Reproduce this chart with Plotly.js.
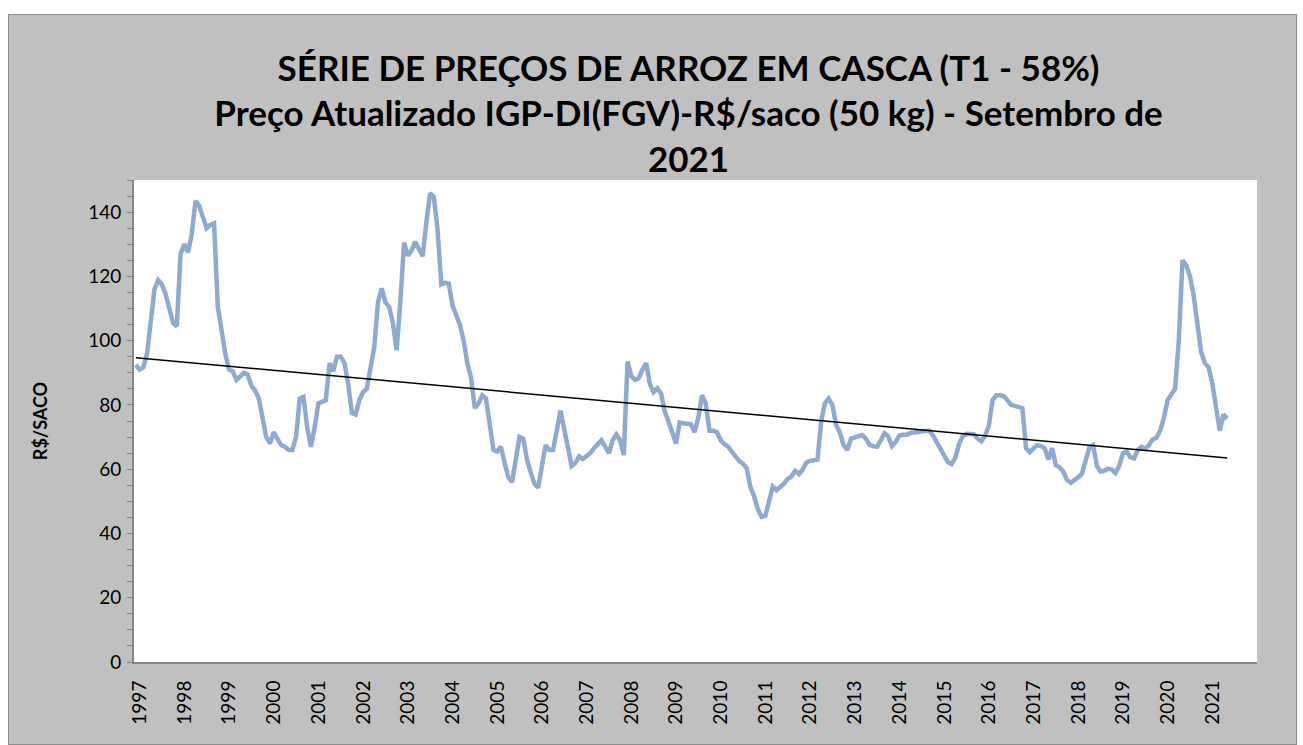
<!DOCTYPE html>
<html>
<head>
<meta charset="utf-8">
<script src="https://cdn.plot.ly/plotly-3.0.1.min.js"></script>
<style>
  html, body { margin: 0; padding: 0; background: #ffffff; }
  #chart {
    position: absolute; left: 8px; top: 14px;
    width: 1289px; height: 731px;
    box-sizing: border-box;
    border: 1px solid #8c8c8c;
  }
</style>
</head>
<body>
<div id="chart"></div>
<script>
// Monthly prices (R$/saco 50 kg), Jan 1997 onward
const p1997 = [92.5, 91, 91.7, 96, 106, 116, 118.8, 117.5, 114.5, 110.5, 105.5, 104.5];
const p1998 = [127, 130, 127.5, 133, 143.5, 142, 138.5, 135, 136, 136.5, 110.6, 102.3];
const p1999 = [96, 91, 90.5, 87.8, 89, 90, 89.5, 86, 84.5, 82, 76, 70];
const p2000 = [68, 71.5, 69.5, 67.5, 67, 66, 66, 70, 82, 82.5, 73, 67];
const p2001 = [73, 80.5, 81, 81.5, 93, 90.5, 95, 95, 93, 86.5, 77.5, 77];
const p2002 = [81.5, 84, 85, 91, 98, 112, 116.3, 112, 110.5, 105.5, 97, 112];
const p2003 = [130.5, 126.5, 128, 130.8, 128.5, 126.3, 137, 145.9, 144.8, 134.5, 117.5, 118];
const p2004 = [117.8, 111, 108, 105, 100, 93, 88.5, 79, 80.5, 83, 82, 73];
const p2005 = [66, 65.5, 67, 62, 57.5, 56, 62.5, 70, 69.5, 63, 59, 55.5];
const p2006 = [54.2, 60, 67.5, 66, 66, 72, 78.2, 72.5, 67, 61, 62, 64];
const p2007 = [63.2, 64, 65, 66.5, 68, 69, 67, 65, 69, 70.8, 69, 64.4];
const p2008 = [93.5, 89, 87.8, 88.3, 91, 93, 86.5, 84, 85.2, 83.6, 78, 75];
const p2009 = [71.5, 68, 74.5, 74.3, 74.2, 74, 71.5, 76, 83, 80.5, 72, 72];
const p2010 = [71.5, 69, 67.8, 67, 65.5, 63.8, 62.5, 61.7, 60.3, 54.5, 51.5, 47.5];
const p2011 = [45.2, 45.5, 50.4, 54.6, 53.5, 54.5, 55.5, 57, 57.7, 59.5, 58.5, 59.8];
const p2012 = [62, 62.6, 62.7, 63, 75, 80.5, 82, 80, 73.7, 71.5, 67.5, 66];
const p2013 = [69.5, 69.8, 70.2, 70.6, 69.5, 67.6, 67.1, 67, 69, 71.2, 70.2, 67.2];
const p2014 = [68.5, 70.5, 70.7, 70.7, 71.3, 71.6, 71.6, 71.8, 72, 72, 70.5, 68.3];
const p2015 = [66.5, 64, 62.2, 61.6, 63.5, 67.8, 70.3, 71, 70.8, 70.9, 69.5, 68.7];
const p2016 = [70.5, 73.5, 81.5, 83, 83, 82.7, 81.5, 80, 79.7, 79.5, 79, 66.5];
const p2017 = [65.3, 66.5, 67.5, 67.2, 66.5, 63, 66.5, 61.2, 60.6, 59.2, 56.6, 55.8];
const p2018 = [56.5, 57.5, 58.6, 63, 66.8, 67.5, 61, 59.3, 59.5, 60.2, 59.9, 58.8];
const p2019 = [61, 65, 65.5, 63.7, 63.4, 66, 67, 66.3, 67.5, 69.3, 69.8, 72];
const p2020 = [76, 81.5, 83, 85, 100, 125, 123.5, 120, 114, 105, 96.5, 93];
const p2021 = [91.7, 86.7, 78.5, 72, 77, 75.8];

// Linear trendline values at the first and last month
const trendEnds = [94.7, 63.5];

const yearLabels = ['1997','1998','1999','2000','2001','2002','2003','2004','2005','2006',
  '2007','2008','2009','2010','2011','2012','2013','2014','2015','2016','2017','2018',
  '2019','2020','2021'];
const yTicks = [0, 20, 40, 60, 80, 100, 120, 140];

const prices = [].concat(p1997, p1998, p1999, p2000, p2001, p2002, p2003, p2004, p2005,
  p2006, p2007, p2008, p2009, p2010, p2011, p2012, p2013, p2014, p2015, p2016, p2017,
  p2018, p2019, p2020, p2021);
const idx = prices.map((_, i) => i);
const n = prices.length;
const trendX = [idx[0], idx[n - 1]];

const tickVals = yearLabels.map((_, k) => k * 12);

const font = 'Lato, "Open Sans", sans-serif';
const axisGray = '#868686';

const traces = [
  { x: idx, y: prices, type: 'scatter', mode: 'lines',
    line: { color: '#8eaad2', width: 4.5, shape: 'linear' }, hoverinfo: 'y', name: 'Preço' },
  { x: trendX, y: trendEnds, type: 'scatter', mode: 'lines',
    line: { color: '#000000', width: 1.5 }, hoverinfo: 'skip', name: 'Linear (Preço)' }
];

const layout = {
  width: 1287, height: 729,
  margin: { l: 125, r: 39, t: 165, b: 82, pad: 0 },
  paper_bgcolor: '#c0c0c0',
  plot_bgcolor: '#ffffff',
  showlegend: false,
  font: { family: font, color: '#000000' },
  title: {
    text: '<b>SÉRIE DE PREÇOS DE ARROZ EM CASCA (T1 - 58%)</b><br><b>Preço Atualizado IGP-DI(FGV)-R$/saco (50 kg) - Setembro de</b><br><b>2021</b>',
    font: { family: font, size: 35, color: '#000000' },
    x: 0.528, xanchor: 'center', xref: 'container',
    y: 0.910, yanchor: 'top', yref: 'container'
  },
  xaxis: {
    range: [-0.5, 301],
    tickmode: 'array', tickvals: tickVals, ticktext: yearLabels,
    tickangle: -90,
    tickfont: { family: font, size: 19, color: '#000000' },
    ticks: '', showgrid: false, zeroline: false,
    showline: true, linecolor: axisGray, linewidth: 2,
    ticklabelshift: 4, ticklabelstandoff: 9,
    fixedrange: true
  },
  yaxis: {
    range: [0, 150],
    tickmode: 'array', tickvals: yTicks,
    tickfont: { family: font, size: 19, color: '#000000' },
    ticks: 'outside', ticklen: 5, tickwidth: 1, tickcolor: axisGray,
    minor: { dtick: 5, tick0: 0, ticks: 'outside', ticklen: 5, tickwidth: 1, tickcolor: axisGray, showgrid: false },
    showgrid: false, zeroline: false,
    showline: true, linecolor: axisGray, linewidth: 2,
    ticklabelstandoff: 2,
    title: { text: '<b>R$/SACO</b>', font: { family: font, size: 18, color: '#000000' }, standoff: 36 },
    fixedrange: true
  }
};

Plotly.newPlot('chart', traces, layout, { displayModeBar: false, staticPlot: true });
</script>
</body>
</html>
